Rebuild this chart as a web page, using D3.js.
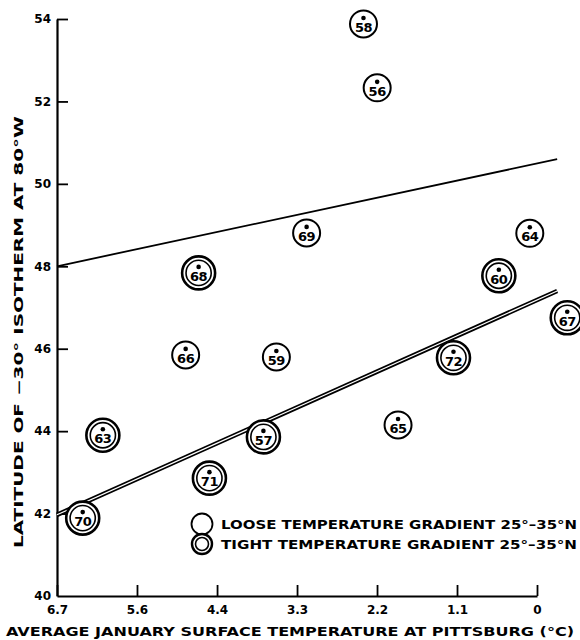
<!DOCTYPE html>
<html>
<head>
<meta charset="utf-8">
<script src="https://cdn.jsdelivr.net/npm/d3@7"></script>
<style>
  html, body { margin: 0; padding: 0; background: #fff; }
  svg { display: block; }
  text { font-family: "DejaVu Sans", sans-serif; font-weight: bold; fill: #000; }
</style>
</head>
<body>
<svg id="chart" width="580" height="640"></svg>
<script>
// Station years: January temperature at Pittsburgh (°C) vs latitude of the -30° isotherm at 80°W
const years     = [58, 56, 69, 64, 66, 59, 65, 68, 60, 67, 72, 63, 57, 71, 70];
const tempC     = [2.41, 2.22, 3.20, 0.10, 4.88, 3.62, 1.93, 4.70, 0.53, -0.42, 1.16, 6.03, 3.80, 4.55, 6.31];
const latitude  = [53.88, 52.33, 48.81, 48.80, 45.85, 45.80, 44.15, 47.84, 47.77, 46.75, 45.78, 43.90, 43.86, 42.86, 41.89];
const gradient  = ["loose", "loose", "loose", "loose", "loose", "loose", "loose",
                   "tight", "tight", "tight", "tight", "tight", "tight", "tight", "tight"];

// Fitted lines (end points in data units)
const looseFitX = [6.667, -0.28];
const looseFitY = [48.0, 50.6];
const tightFitX = [6.667, -0.28];
const tightFitY = [41.97, 47.4];

// Axis ticks: the °C labels are conversions of 44..32 °F in 2 °F steps
const xTickValues = [6.667, 5.556, 4.444, 3.333, 2.222, 1.111, 0];
const xTickLabels = ["6.7", "5.6", "4.4", "3.3", "2.2", "1.1", "0"];
const yTickValues = [40, 42, 44, 46, 48, 50, 52, 54];

const legendLabels = ["LOOSE TEMPERATURE GRADIENT 25°\u201335°N",
                      "TIGHT TEMPERATURE GRADIENT 25°\u201335°N"];

const svg = d3.select("#chart");

const x = d3.scaleLinear().domain([6.667, 0]).range([57, 537]);
const y = d3.scaleLinear().domain([40, 54]).range([596, 19]);

// ---- axes ----
const xAxis = d3.axisTop(x)
  .tickValues(xTickValues)
  .tickFormat((d, i) => xTickLabels[i])
  .tickSize(11)
  .tickSizeOuter(0);
const gx = svg.append("g").attr("transform", "translate(0,596)").call(xAxis);
gx.select(".domain").attr("stroke", "#000").attr("stroke-width", 2.2);
gx.selectAll(".tick line").attr("stroke", "#000").attr("stroke-width", 1.8);
gx.selectAll(".tick text")
  .attr("y", 18).attr("dy", 0)
  .style("font-size", "12px")
  .style("font-family", "DejaVu Sans")
  .style("font-weight", "bold")
  .attr("fill", "#000");

const yAxis = d3.axisRight(y)
  .tickValues(yTickValues)
  .tickFormat(d3.format("d"))
  .tickSize(11)
  .tickSizeOuter(0);
const gy = svg.append("g").attr("transform", "translate(57,0)").call(yAxis);
gy.select(".domain").attr("stroke", "#000").attr("stroke-width", 2.2);
gy.selectAll(".tick line").attr("stroke", "#000").attr("stroke-width", 1.8);
gy.selectAll(".tick line").filter(d => d === 40).remove();
gy.selectAll(".tick text")
  .attr("x", -6).attr("text-anchor", "end")
  .style("font-size", "12px")
  .style("font-family", "DejaVu Sans")
  .style("font-weight", "bold")
  .attr("fill", "#000");

// ---- axis titles ----
svg.append("text")
  .attr("x", 6).attr("y", 636)
  .attr("textLength", 568).attr("lengthAdjust", "spacingAndGlyphs")
  .style("font-size", "12px")
  .text("AVERAGE JANUARY SURFACE TEMPERATURE AT PITTSBURG (°C)");

svg.append("text")
  .attr("transform", "translate(23,548) rotate(-90)")
  .attr("x", 0).attr("y", 0)
  .attr("textLength", 432).attr("lengthAdjust", "spacingAndGlyphs")
  .style("font-size", "12px")
  .text("LATITUDE OF \u221230° ISOTHERM AT 80°W");

// ---- fitted lines ----
const line = d3.line().x(d => x(d[0])).y(d => y(d[1]));
const loosePts = d3.zip(looseFitX, looseFitY);
const tightPts = d3.zip(tightFitX, tightFitY);

svg.append("path").datum(loosePts).attr("d", line)
  .attr("fill", "none").attr("stroke", "#000").attr("stroke-width", 1.8);

// double line for the tight-gradient fit
svg.append("path").datum(tightPts).attr("d", line)
  .attr("fill", "none").attr("stroke", "#000").attr("stroke-width", 4.6);
svg.append("path").datum(tightPts).attr("d", line)
  .attr("fill", "none").attr("stroke", "#fff").attr("stroke-width", 1.2);

// ---- year markers ----
function marker(g, kind) {
  if (kind === "tight") {
    g.append("circle").attr("r", 16.5).attr("fill", "#fff")
      .attr("stroke", "#000").attr("stroke-width", 2.6);
    g.append("circle").attr("r", 12.6).attr("fill", "none")
      .attr("stroke", "#000").attr("stroke-width", 1.6);
  } else {
    g.append("circle").attr("r", 13.5).attr("fill", "#fff")
      .attr("stroke", "#000").attr("stroke-width", 2);
  }
}

const pts = years.map((yr, i) => ({ yr, t: tempC[i], lat: latitude[i], kind: gradient[i] }));

const groups = svg.append("g").selectAll("g")
  .data(pts).join("g")
  .attr("transform", d => `translate(${x(d.t)},${y(d.lat)})`);

groups.each(function(d) {
  const g = d3.select(this);
  marker(g, d.kind);
  g.append("circle").attr("cy", -6).attr("r", 2.3).attr("fill", "#000");
  g.append("text")
    .attr("y", 8).attr("text-anchor", "middle")
    .style("font-size", "13px")
    .style("letter-spacing", "-0.5px")
    .text(d.yr);
});

// ---- legend ----
const legend = svg.append("g");
const legendKinds = ["loose", "tight"];
legendKinds.forEach((k, i) => {
  const cy = 524 + i * 20;
  const g = legend.append("g").attr("transform", `translate(202,${cy})`);
  if (k === "loose") {
    g.append("circle").attr("r", 10.5).attr("fill", "#fff")
      .attr("stroke", "#000").attr("stroke-width", 1.8);
  } else {
    g.append("circle").attr("r", 10).attr("fill", "#fff")
      .attr("stroke", "#000").attr("stroke-width", 2.4);
    g.append("circle").attr("r", 6.5).attr("fill", "none")
      .attr("stroke", "#000").attr("stroke-width", 1.6);
  }
  legend.append("text")
    .attr("x", 221).attr("y", cy + 5)
    .attr("textLength", 356).attr("lengthAdjust", "spacingAndGlyphs")
    .style("font-size", "12.5px")
    .text(legendLabels[i]);
});
</script>
</body>
</html>
